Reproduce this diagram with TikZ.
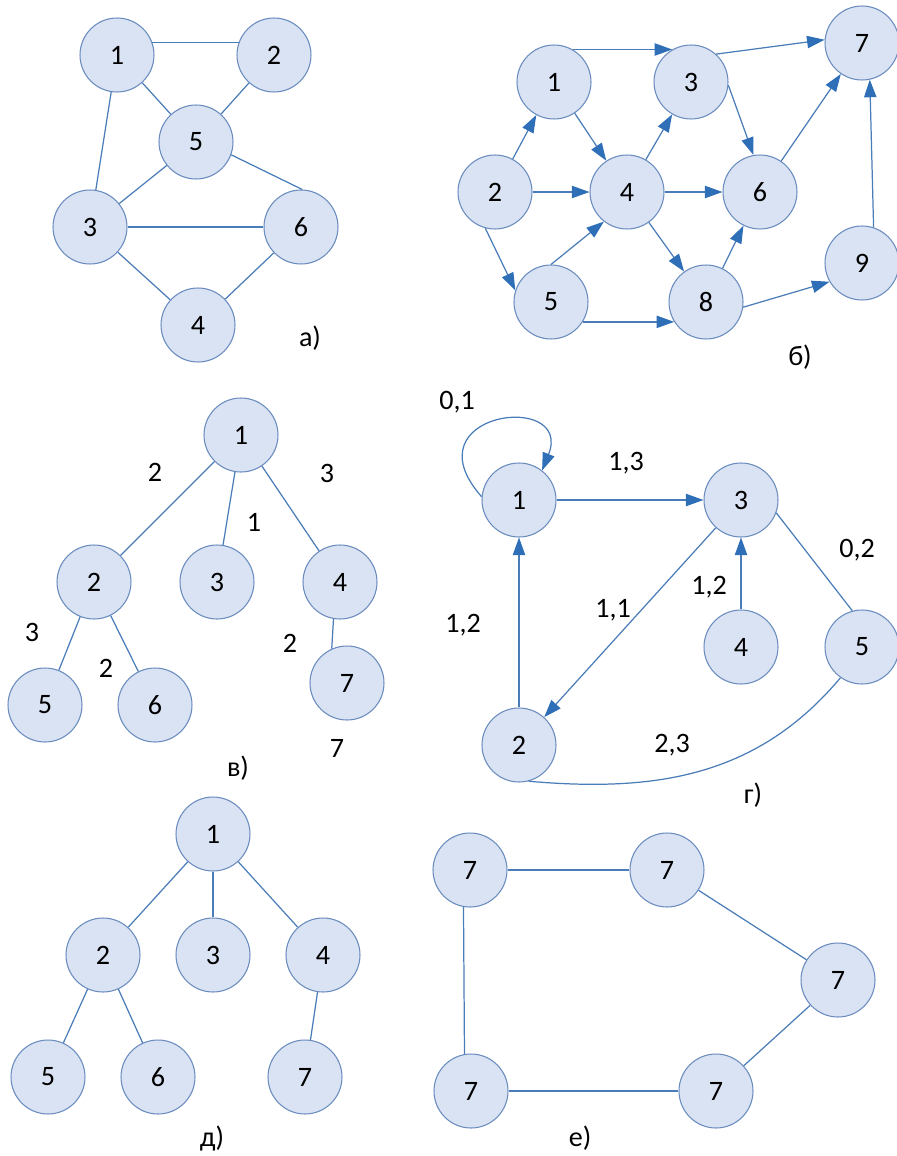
\documentclass[tikz,border=0pt]{standalone}
\usepackage{fontspec}
\setmainfont{Carlito}
\usepackage{xcolor}
\usetikzlibrary{arrows.meta}

\definecolor{vertfill}{HTML}{DAE3F3}
\definecolor{vertline}{HTML}{6A8CBF}
\definecolor{edgeline}{HTML}{4A7DB8}
\definecolor{tipblue}{HTML}{2F6FB7}

\tikzset{
  vert/.style={circle,draw=vertline,fill=vertfill,line width=0.6pt,minimum size=1.48cm,inner sep=0pt},
  edge/.style={draw=edgeline,line width=0.7pt},
  darc/.style={edge,-{Triangle[length=10pt,width=7pt,color=tipblue]}},
  lbl/.style={inner sep=0pt}
}

\begin{document}
\begin{tikzpicture}[x=0.02cm,y=0.02cm,font=\fontsize{16}{19}\selectfont]
\useasboundingbox (0,0) rectangle (896,-1156);

%graph a)
\node[vert] (a1) at (117,-55) {1};
\node[vert] (a2) at (274,-55) {2};
\node[vert] (a5) at (196,-142) {5};
\node[vert] (a3) at (90,-227) {3};
\node[vert] (a6) at (301,-227) {6};
\node[vert] (a4) at (198,-325) {4};
\node[lbl] (la) at (310,-338) {а)};

\draw[edge] (a1.20) -- (a2.160);
\draw[edge] (a1) -- (a5);
\draw[edge] (a2) -- (a5);
\draw[edge] (a1) -- (a3);
\draw[edge] (a5) -- (a3);
\draw[edge] (a5.-20) -- (a6.88);
\draw[edge] (a3) -- (a6);
\draw[edge] (a3) -- (a4);
\draw[edge] (a6) -- (a4);

%graph b)
\node[vert] (b1) at (554,-82) {1};
\node[vert] (b3) at (691,-82) {3};
\node[vert] (b7) at (862,-43) {7};
\node[vert] (b2) at (495,-192) {2};
\node[vert] (b4) at (627,-192) {4};
\node[vert] (b6) at (760,-192) {6};
\node[vert] (b9) at (862,-263) {9};
\node[vert] (b5) at (551,-302) {5};
\node[vert] (b8) at (706,-302) {8};
\node[lbl] (lb) at (800,-357) {б)};

\draw[darc] (b1.60) -- (b3.120);
\draw[darc] (b3.48) -- (b7.175);
\draw[darc] (b2) -- (b1);
\draw[darc] (b1) -- (b4);
\draw[darc] (b2) -- (b4);
\draw[darc] (b2.-105) -- (b5.162);
\draw[darc] (b5.90) -- (b4.232);
\draw[darc] (b4) -- (b3);
\draw[darc] (b4) -- (b6);
\draw[darc] (b4) -- (b8);
\draw[darc] (b3.-5) -- (b6.100);
\draw[darc] (b8) -- (b6);
\draw[darc] (b6) -- (b7);
\draw[darc] (b5.-32) -- (b8.212);
\draw[darc] (b8.-8) -- (b9.210);
\draw[darc] (b9.72) -- (b7.-78);

%tree v)
\node[vert] (v1) at (241,-435) {1};
\node[vert] (v2) at (94,-582) {2};
\node[vert] (v3) at (217,-582) {3};
\node[vert] (v4) at (340,-582) {4};
\node[vert] (v7) at (347,-683) {7};
\node[vert] (v5) at (45,-705) {5};
\node[vert] (v6) at (155,-705) {6};

\draw[edge] (v1) -- (v2);
\draw[edge] (v1) -- (v3);
\draw[edge] (v1) -- (v4);
\draw[edge] (v2) -- (v5);
\draw[edge] (v2) -- (v6);
\draw[edge] (v4.-100) -- (v7.114);

\node[lbl] (wv12) at (155,-472) {2};
\node[lbl] (wv14) at (327,-473) {3};
\node[lbl] (wv13) at (254,-522) {1};
\node[lbl] (wv25) at (32,-632) {3};
\node[lbl] (wv26) at (106,-668) {2};
\node[lbl] (wv47) at (290,-643) {2};
\node[lbl] (wv7) at (337,-748) {7};
\node[lbl] (lv) at (238,-768) {в)};

%graph g)
\node[vert] (g1) at (519,-500) {1};
\node[vert] (g3) at (741,-500) {3};
\node[vert] (g4) at (741,-647) {4};
\node[vert] (g5) at (862,-647) {5};
\node[vert] (g2) at (519,-745) {2};

\draw[darc] (g1.175) .. controls +(-75,85) and +(32,80) .. (g1.52);
\draw[darc] (g1) -- (g3);
\draw[darc] (g4) -- (g3);
\draw[darc] (g2) -- (g1);
\draw[darc] (g3) -- (g2);
\draw[edge] (g3.-20) -- (g5.105);
\draw[edge] (g5.235) to[out=230,in=-5] (g2.-75);

\node[lbl] (wg11) at (457,-402) {0,1};
\node[lbl] (wg13) at (626,-463) {1,3};
\node[lbl] (wg35) at (857,-550) {0,2};
\node[lbl] (wg43) at (709,-587) {1,2};
\node[lbl] (wg32) at (613,-610) {1,1};
\node[lbl] (wg21) at (463,-625) {1,2};
\node[lbl] (wg52) at (672,-745) {2,3};
\node[lbl] (lg) at (753,-795) {г)};

%tree d)
\node[vert] (d1) at (213,-834) {1};
\node[vert] (d2) at (103,-955) {2};
\node[vert] (d3) at (213,-955) {3};
\node[vert] (d4) at (323,-955) {4};
\node[vert] (d5) at (48,-1077) {5};
\node[vert] (d6) at (158,-1077) {6};
\node[vert] (d7) at (305,-1077) {7};
\node[lbl] (ld) at (212,-1139) {д)};

\draw[edge] (d1) -- (d2);
\draw[edge] (d1) -- (d3);
\draw[edge] (d1) -- (d4);
\draw[edge] (d2) -- (d5);
\draw[edge] (d2) -- (d6);
\draw[edge] (d4) -- (d7);

%cycle e)
\node[vert] (e1) at (470,-870) {7};
\node[vert] (e2) at (667,-870) {7};
\node[vert] (e3) at (838,-980) {7};
\node[vert] (e4) at (716,-1091) {7};
\node[vert] (e5) at (471,-1091) {7};
\node[lbl] (le) at (580,-1138) {е)};

\draw[edge] (e1) -- (e2);
\draw[edge] (e2) -- (e3);
\draw[edge] (e3) -- (e4);
\draw[edge] (e4) -- (e5);
\draw[edge] (e5.100) -- (e1.-100);
\end{tikzpicture}
\end{document}
